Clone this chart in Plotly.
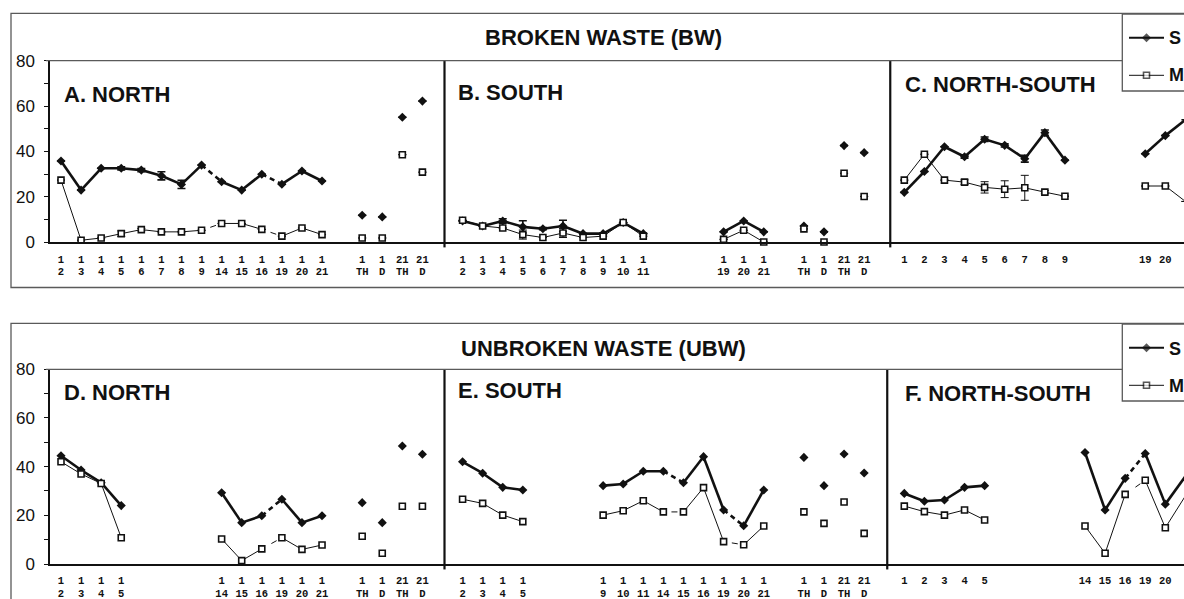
import plotly.graph_objects as go

W, H = 1184, 599

# ---------------- data ----------------
# category keys: "line1|line2"; "" = empty slot on the shared grid
A_CATS = ["1|2", "1|3", "1|4", "1|5", "1|6", "1|7", "1|8", "1|9", "1|14", "1|15", "1|16",
          "1|19", "1|20", "1|21", "", "1|TH", "1|D", "21|TH", "21|D"]
A_S = [35.8, 23.0, 32.6, 32.6, 31.8, 29.3, 25.5, 34.0, 26.7, 23.0, 30.0, 25.6, 31.4, 27.0,
       None, 11.9, 11.2, 55.1, 62.2]
A_S_ERR = [0, 0, 0, 0.7, 0.7, 1.8, 1.8, 0, 0, 0, 0, 0, 0, 0, 0, 0, 0, 0, 0]
A_M = [27.4, 0.9, 1.9, 3.8, 5.6, 4.6, 4.6, 5.3, 8.3, 8.3, 5.7, 2.7, 6.3, 3.4,
       None, 1.9, 1.9, 38.6, 30.9]
A_M_ERR = [0, 0, 0, 1.2, 0.5, 0, 0, 0, 0, 0, 0, 0, 0, 0, 0, 0, 0, 0, 0]
A_LINK = "sssssssdssdss......"

B_CATS = ["1|2", "1|3", "1|4", "1|5", "1|6", "1|7", "1|8", "1|9", "1|10", "1|11", "", "", "",
          "1|19", "1|20", "1|21", "", "1|TH", "1|D", "21|TH", "21|D"]
B_S = [9.4, 7.2, 9.4, 6.8, 6.0, 7.2, 3.8, 3.8, 8.7, 3.8, None, None, None,
       4.6, 9.4, 4.6, None, 7.2, 4.6, 42.6, 39.5]
B_S_ERR = [0, 0, 1.0, 2.7, 0.5, 2.5, 0, 0, 0, 0, 0, 0, 0, 0, 0, 0, 0, 0, 0, 0, 0]
B_M = [9.7, 7.2, 6.3, 3.4, 2.1, 4.1, 2.1, 2.7, 8.7, 2.7, None, None, None,
       1.3, 5.3, 0.1, None, 5.9, 0.1, 30.4, 20.2]
B_M_ERR = [0, 0, 0, 2.0, 0, 2.0, 0, 0, 0, 0, 0, 0, 0, 0, 0, 0, 0, 0, 0, 0, 0]
B_LINK = "sssssssss....ss......"

C_CATS = ["1", "2", "3", "4", "5", "6", "7", "8", "9", "", "", "", "19", "20", "21"]
C_S = [22.0, 31.2, 42.1, 37.7, 45.4, 42.7, 36.8, 48.3, 36.2, None, None, None, 39.0, 47.0, 54.0]
C_S_ERR = [0, 0, 0, 0.7, 1.0, 0.7, 1.5, 1.2, 0, 0, 0, 0, 0, 0, 0]
C_M = [27.4, 38.8, 27.4, 26.5, 24.2, 23.4, 24.0, 22.1, 20.3, None, None, None, 24.8, 24.8, 18.0]
C_M_ERR = [0, 0, 0, 1.0, 2.5, 3.7, 5.5, 0.7, 0, 0, 0, 0, 0, 0, 0]
C_LINK = "ssssssss....ss."

D_CATS = ["1|2", "1|3", "1|4", "1|5", "", "", "", "", "1|14", "1|15", "1|16", "1|19", "1|20",
          "1|21", "", "1|TH", "1|D", "21|TH", "21|D"]
D_S = [44.5, 38.6, 33.4, 24.0, None, None, None, None, 29.3, 17.0, 19.8, 26.6, 17.0, 19.8,
       None, 25.2, 17.0, 48.5, 45.1]
D_M = [42.0, 37.0, 33.1, 10.8, None, None, None, None, 10.3, 1.4, 6.2, 10.8, 6.0, 7.8,
       None, 11.4, 4.4, 23.7, 23.7]
D_LINK = "sss.....ssdss......"

E_CATS = ["1|2", "1|3", "1|4", "1|5", "", "", "", "1|9", "1|10", "1|11", "1|14", "1|15", "1|16",
          "1|19", "1|20", "1|21", "", "1|TH", "1|D", "21|TH", "21|D"]
E_S = [42.0, 37.3, 31.5, 30.4, None, None, None, 32.2, 32.9, 38.1, 38.1, 33.4, 44.1,
       22.2, 15.7, 30.4, None, 43.8, 32.2, 45.2, 37.4]
E_M = [26.6, 24.9, 20.1, 17.4, None, None, None, 20.1, 21.9, 26.0, 21.4, 21.4, 31.4,
       9.2, 7.9, 15.6, None, 21.4, 16.7, 25.5, 12.6]
E_LINK = "sss....sssdssds......"

F_CATS = ["1", "2", "3", "4", "5", "", "", "", "", "14", "15", "16", "19", "20", "21"]
F_S = [29.0, 25.8, 26.3, 31.5, 32.2, None, None, None, None, 45.8, 22.2, 35.2, 45.4, 24.6, 36.0]
F_M = [23.8, 21.5, 20.1, 22.2, 18.1, None, None, None, None, 15.6, 4.4, 28.6, 34.4, 14.9, 28.0]
F_LINK = "ssss.....ssdss."

TOP_TITLE = "BROKEN WASTE (BW)"
BOT_TITLE = "UNBROKEN WASTE (UBW)"
TOP_PANELS = ["A. NORTH", "B. SOUTH", "C. NORTH-SOUTH"]
BOT_PANELS = ["D. NORTH", "E. SOUTH", "F. NORTH-SOUTH"]
LEGEND_NAMES = ["S", "M"]
Y_TICKS = [0, 20, 40, 60, 80]

# ---------------- styling ----------------
SANS = "Liberation Sans Narrow, Arial Narrow, Liberation Sans, Arial, sans-serif"
MONO = "Liberation Mono, Courier New, monospace"
INK = "#111111"
FRAME = "#5a5a5a"
X_DOMAIN = [50 / W, 1.0]
X_RANGE = [-0.548, 55.93]
TOP_Y_DOMAIN = [1 - 242.3 / H, 1 - 60.7 / H]
BOT_Y_DOMAIN = [1 - 564.0 / H, 1 - 369.3 / H]

fig = go.Figure()


def row_layout(panels):
    """Concatenate panel category lists on one grid with one empty slot between panels."""
    pos_lists, seps = [], []
    start = 0
    for i, cats in enumerate(panels):
        pos_lists.append([start + k for k in range(len(cats))])
        start += len(cats)
        if i < len(panels) - 1:
            seps.append(start)
            start += 1
    return pos_lists, seps


def tick_info(panels, pos_lists):
    vals, l1, l2 = [], [], []
    for cats, pos in zip(panels, pos_lists):
        for c, p in zip(cats, pos):
            if c:
                parts = c.split("|")
                vals.append(p)
                l1.append(parts[0])
                l2.append(parts[1] if len(parts) > 1 else "")
    return vals, l1, l2


def seg(pos, vals, link, kind, reverse=False):
    xs, ys = [], []
    idx = [i for i, v in enumerate(vals) if v is not None]
    for a, b in zip(idx, idx[1:]):
        if link[a] == kind:
            if reverse:
                xs += [pos[b], pos[a], None]
                ys += [vals[b], vals[a], None]
            else:
                xs += [pos[a], pos[b], None]
                ys += [vals[a], vals[b], None]
    return xs, ys


def add_series(pos, vals, err, link, xa, ya, is_s):
    lw = 2.6 if is_s else 1.0
    xs, ys = seg(pos, vals, link, "s")
    fig.add_trace(go.Scatter(x=xs, y=ys, mode="lines", xaxis=xa, yaxis=ya,
                             line=dict(color=INK, width=lw), cliponaxis=False,
                             showlegend=False, hoverinfo="skip"))
    xs, ys = seg(pos, vals, link, "d", reverse=not is_s)
    if xs:
        dash = "5px,4px" if is_s else "0px,6px,6px,300px"
        fig.add_trace(go.Scatter(x=xs, y=ys, mode="lines", xaxis=xa, yaxis=ya,
                                 line=dict(color=INK, width=lw, dash=dash), cliponaxis=False,
                                 showlegend=False, hoverinfo="skip"))
    px = [p for p, v in zip(pos, vals) if v is not None]
    py = [v for v in vals if v is not None]
    ey = None
    if err is not None:
        e = [er for er, v in zip(err, vals) if v is not None]
        ey = dict(type="data", array=e, visible=True, color=INK,
                  thickness=1.6 if is_s else 1.0, width=4)
    if is_s:
        mk = dict(symbol="diamond", size=7, color=INK, line=dict(width=0))
    else:
        mk = dict(symbol="square", size=6, color="white", line=dict(width=1.6, color=INK))
    fig.add_trace(go.Scatter(x=px, y=py, mode="markers", xaxis=xa, yaxis=ya, marker=mk,
                             error_y=ey, cliponaxis=False, showlegend=False))


rows = [
    dict(cats=[A_CATS, B_CATS, C_CATS], S=[A_S, B_S, C_S], SE=[A_S_ERR, B_S_ERR, C_S_ERR],
         M=[A_M, B_M, C_M], ME=[A_M_ERR, B_M_ERR, C_M_ERR], L=[A_LINK, B_LINK, C_LINK],
         xa="x", ya="y", xa2="x4", sep_off=[0.1, 0.3]),
    dict(cats=[D_CATS, E_CATS, F_CATS], S=[D_S, E_S, F_S], SE=[None, None, None],
         M=[D_M, E_M, F_M], ME=[None, None, None], L=[D_LINK, E_LINK, F_LINK],
         xa="x2", ya="y2", xa2="x5", sep_off=[0.1, 0.15]),
]

shapes = []
row_ticks = []
for r in rows:
    pos_lists, seps = row_layout(r["cats"])
    row_ticks.append(tick_info(r["cats"], pos_lists))
    for k in range(3):
        add_series(pos_lists[k], r["S"][k], r["SE"][k], r["L"][k], r["xa"], r["ya"], True)
    for k in range(3):
        add_series(pos_lists[k], r["M"][k], r["ME"][k], r["L"][k], r["xa"], r["ya"], False)
    for s, off in zip(seps, r["sep_off"]):
        shapes.append(dict(type="line", xref=r["xa"], yref=r["ya"] + " domain",
                           x0=s + off, x1=s + off, y0=-0.028, y1=1.0,
                           line=dict(color=INK, width=2.2)))
    # dummy traces so line-2 tick axes exist
    fig.add_trace(go.Scatter(x=[None], y=[None], xaxis=r["xa2"], yaxis=r["ya"],
                             showlegend=False, hoverinfo="skip"))

# ---------- overlay pixel-coordinate axes for frames / titles / legend ----------
fig.add_trace(go.Scatter(x=[None], y=[None], xaxis="x3", yaxis="y3", showlegend=False))

for dy in (0.0, 310.0):
    # outer frame
    shapes.append(dict(type="rect", xref="x3", yref="y3", x0=11, x1=1230, y0=13.3 + dy,
                       y1=287.5 + dy if dy == 0 else 640, line=dict(color=FRAME, width=1.3)))
    # legend box
    shapes.append(dict(type="rect", xref="x3", yref="y3", x0=1122.3, x1=1230, y0=14 + dy,
                       y1=91 + dy, line=dict(color=FRAME, width=1.3), fillcolor="white",
                       layer="below"))
for ya in ("y", "y2"):
    shapes.append(dict(type="line", xref="x3", yref=ya + " domain", x0=46, x1=1122.3,
                       y0=1, y1=1, line=dict(color=FRAME, width=1.3)))

# legend samples
for dy in (0.0, 310.0):
    for j, (name, yy) in enumerate(zip(LEGEND_NAMES, (37.7, 75.3))):
        is_s = j == 0
        fig.add_trace(go.Scatter(
            x=[1129, 1146.5, 1164], y=[yy + dy] * 3, mode="lines+markers",
            xaxis="x3", yaxis="y3", showlegend=False, hoverinfo="skip",
            line=dict(color=INK, width=2.0 if is_s else 1.0),
            marker=dict(symbol="diamond" if is_s else "square",
                        size=[0, 7, 0] if is_s else [0, 6, 0],
                        color=INK if is_s else "white",
                        line=dict(width=0 if is_s else 1.6, color=INK))))

annotations = []
for dy, title in ((0.0, TOP_TITLE), (311.0, BOT_TITLE)):
    annotations.append(dict(text=title, x=603.5, y=37.5 + dy, xref="x3", yref="y3",
                            showarrow=False, xanchor="center", yanchor="middle",
                            font=dict(family=SANS, size=22, color=INK, weight="bold")))
    for name, yy in zip(LEGEND_NAMES, (37.7, 75.3)):
        annotations.append(dict(text=name, x=1167, y=yy + dy, xref="x3", yref="y3",
                                showarrow=False, xanchor="left", yanchor="middle",
                                font=dict(family=SANS, size=18, color=INK, weight="bold")))

panel_xy = [(62, 94), (456, 92), (903, 84)]
for (px_, py_), name in zip(panel_xy, TOP_PANELS):
    annotations.append(dict(text=name, x=px_, y=py_, xref="x3", yref="y3", showarrow=False,
                            xanchor="left", yanchor="middle",
                            font=dict(family=SANS, size=22, color=INK, weight="bold")))
panel_xy_b = [(62, 392), (456, 390), (903, 393)]
for (px_, py_), name in zip(panel_xy_b, BOT_PANELS):
    annotations.append(dict(text=name, x=px_, y=py_, xref="x3", yref="y3", showarrow=False,
                            xanchor="left", yanchor="middle",
                            font=dict(family=SANS, size=22, color=INK, weight="bold")))


def xaxis_main(ticks, anchor):
    vals, l1, _ = ticks
    return dict(domain=X_DOMAIN, range=X_RANGE, anchor=anchor, showgrid=False, zeroline=False,
                showline=True, linecolor=INK, linewidth=1.5, ticks="",
                tickmode="array", tickvals=vals, ticktext=l1, ticklabelstandoff=6,
                tickfont=dict(family=MONO, size=10.5, color=INK, weight="bold"),
                automargin=False, fixedrange=True)


def xaxis_line2(ticks, anchor, over):
    vals, _, l2 = ticks
    return dict(overlaying=over, matches=over, anchor=anchor, side="bottom", showgrid=False,
                zeroline=False, showline=False, ticks="", tickmode="array", tickvals=vals,
                ticktext=l2, ticklabelstandoff=21,
                tickfont=dict(family=MONO, size=10.5, color=INK, weight="bold"),
                automargin=False, fixedrange=True)


def yaxis(domain, anchor):
    return dict(domain=domain, range=[0, 80], anchor=anchor, showgrid=False, zeroline=False,
                showline=True, linecolor=INK, linewidth=1.5, ticks="outside", ticklen=4,
                tickwidth=1, tickcolor=INK, tickmode="array", tickvals=Y_TICKS,
                minor=dict(dtick=10, ticks="outside", ticklen=4, tickcolor=INK, tickwidth=1),
                ticklabelstandoff=6,
                tickfont=dict(family=SANS, size=17, color=INK),
                automargin=False, fixedrange=True)


fig.update_layout(
    width=W, height=H, template="none",
    margin=dict(l=0, r=0, t=0, b=0, pad=0),
    paper_bgcolor="white", plot_bgcolor="rgba(0,0,0,0)",
    showlegend=False,
    xaxis=xaxis_main(row_ticks[0], "y"),
    yaxis=yaxis(TOP_Y_DOMAIN, "x"),
    xaxis2=xaxis_main(row_ticks[1], "y2"),
    yaxis2=yaxis(BOT_Y_DOMAIN, "x2"),
    xaxis4=xaxis_line2(row_ticks[0], "y", "x"),
    xaxis5=xaxis_line2(row_ticks[1], "y2", "x2"),
    xaxis3=dict(domain=[0, 1], range=[0, W], visible=False, anchor="y3", fixedrange=True),
    yaxis3=dict(domain=[0, 1], range=[H, 0], visible=False, anchor="x3", fixedrange=True),
    shapes=shapes, annotations=annotations,
)

fig.write_html(
    "out.html",
    config={"displayModeBar": False},
    post_script="document.body.style.margin='0';document.body.style.overflow='hidden';",
)
